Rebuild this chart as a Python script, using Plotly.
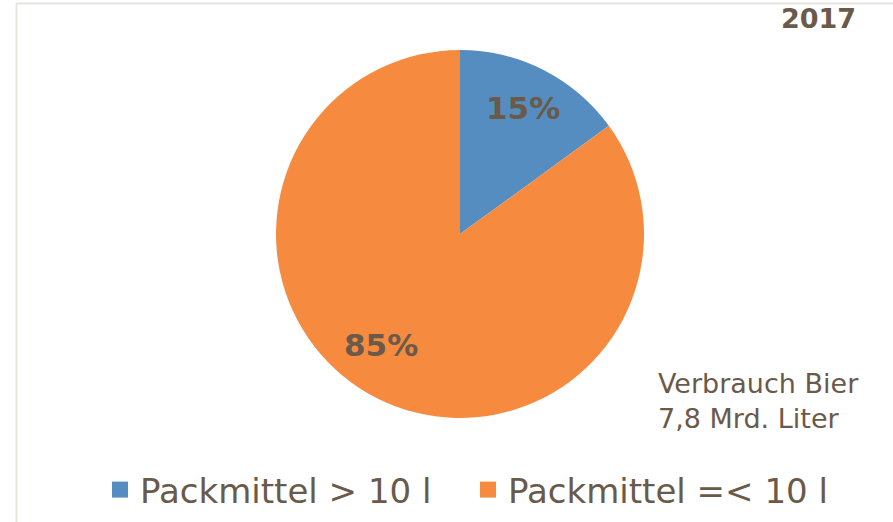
import plotly.graph_objects as go

labels = ["Packmittel > 10 l", "Packmittel =< 10 l"]
values = [15, 85]
colors = ["#558DC0", "#F68B40"]
year_label = "2017"
note_lines = ["Verbrauch Bier", "7,8 Mrd. Liter"]

TXT = "#6A5A4A"
FONT = "DejaVu Sans"
W, H = 893, 522

fig = go.Figure()
fig.add_trace(go.Pie(
    labels=labels,
    values=values,
    marker=dict(colors=colors, line=dict(width=0)),
    sort=False,
    direction="clockwise",
    rotation=0,
    textinfo="none",
    showlegend=False,
    domain=dict(x=[(460 - 184) / W, (460 + 184) / W], y=[1 - 418 / H, 1 - 50 / H]),
    hoverinfo="label+percent",
))

# legend entries with larger square swatches
for lab, col in zip(labels, colors):
    fig.add_trace(go.Scatter(
        x=[None], y=[None], mode="markers", name=lab,
        marker=dict(symbol="square", size=19, color=col),
        showlegend=True, hoverinfo="skip",
    ))

# percentage labels (text from the data)
label_pos = [(523, 108), (381, 345)]
total = sum(values)
annotations = []
for v, (px, py) in zip(values, label_pos):
    annotations.append(dict(
        text="<b>%d%%</b>" % round(100 * v / total), x=px / W, y=1 - py / H,
        xref="paper", yref="paper", xanchor="center", yanchor="middle", showarrow=False,
        font=dict(family=FONT, size=31, color=TXT)))

annotations += [
    dict(text="<b>" + year_label + "</b>", x=858 / W, y=1 - 19 / H, xref="paper", yref="paper",
         xanchor="right", yanchor="middle", showarrow=False,
         font=dict(family=FONT, size=27, color=TXT)),
    dict(text="<br>".join(note_lines), x=656 / W, y=1 - 401 / H, xref="paper", yref="paper",
         xanchor="left", yanchor="middle", align="left", showarrow=False,
         font=dict(family=FONT, size=27, color=TXT)),
]

fig.update_layout(
    width=W, height=H,
    margin=dict(l=0, r=0, t=0, b=0),
    paper_bgcolor="white",
    plot_bgcolor="white",
    font=dict(family=FONT, color=TXT),
    xaxis=dict(visible=False),
    yaxis=dict(visible=False),
    showlegend=True,
    legend=dict(
        orientation="h",
        x=100 / W, xanchor="left",
        y=1 - 490 / H, yanchor="middle",
        font=dict(family=FONT, size=34, color=TXT),
        itemsizing="trace",
        entrywidth=323,
        entrywidthmode="pixels",
        bgcolor="rgba(0,0,0,0)",
    ),
    annotations=annotations,
    shapes=[
        dict(type="line", xref="paper", yref="paper", x0=16 / W, x1=1, y0=1 - 3.5 / H, y1=1 - 3.5 / H,
             line=dict(color="#E8E5E1", width=2)),
        dict(type="line", xref="paper", yref="paper", x0=16.5 / W, x1=16.5 / W, y0=0, y1=1 - 3 / H,
             line=dict(color="#E8E5E1", width=2)),
    ],
)

fig.write_html("out.html", config={"displayModeBar": False},
               post_script="document.body.style.margin='0';")
